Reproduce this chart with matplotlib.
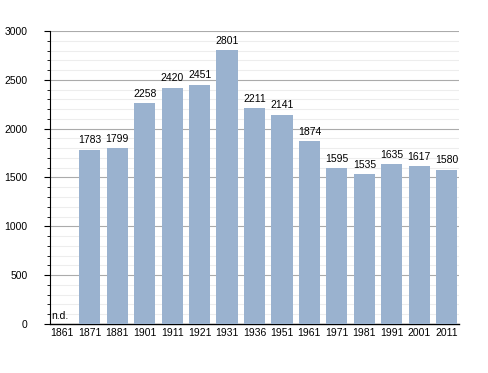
import matplotlib
matplotlib.use('Agg')
import matplotlib.pyplot as plt
from matplotlib.ticker import MultipleLocator

years = ['1861', '1871', '1881', '1901', '1911', '1921', '1931', '1936',
         '1951', '1961', '1971', '1981', '1991', '2001', '2011']
population = [None, 1783, 1799, 2258, 2420, 2451, 2801, 2211,
              2141, 1874, 1595, 1535, 1635, 1617, 1580]

plt.rcParams['font.family'] = ['Liberation Sans', 'DejaVu Sans']

fig = plt.figure(figsize=(4.88, 3.73), dpi=100)
ax = fig.add_axes([0.1025, 0.1314, 0.838, 0.7855])

x = list(range(len(years)))
heights = [0 if v is None else v for v in population]
bars = ax.bar(x, heights, width=0.77, color='#9ab2cf', zorder=3)

for i, v in enumerate(population):
    if v is None:
        ax.text(i - 0.4, 30, 'n.d.', fontsize=7.5, ha='left', va='bottom', zorder=4)
    else:
        ax.text(i, v + 45, str(v), fontsize=7.5, ha='center', va='bottom', zorder=4)

ax.set_xlim(-0.45, len(years) - 0.55)
ax.set_ylim(0, 3000)
ax.set_xticks(x)
ax.set_xticklabels(years, fontsize=7.5)
ax.tick_params(axis='x', length=0, pad=3)

ax.yaxis.set_major_locator(MultipleLocator(500))
ax.yaxis.set_minor_locator(MultipleLocator(100))
ax.tick_params(axis='y', which='major', length=4, labelsize=7.5, pad=12)
ax.tick_params(axis='y', which='minor', length=2)

ax.grid(axis='y', which='major', color='#ababab', linewidth=0.8, zorder=0)
ax.grid(axis='y', which='minor', color='#ededed', linewidth=0.8, zorder=0)

for s in ['top', 'right']:
    ax.spines[s].set_visible(False)
ax.spines['left'].set_linewidth(0.8)
ax.spines['bottom'].set_linewidth(1.0)

fig.savefig('out.png', dpi=100)
